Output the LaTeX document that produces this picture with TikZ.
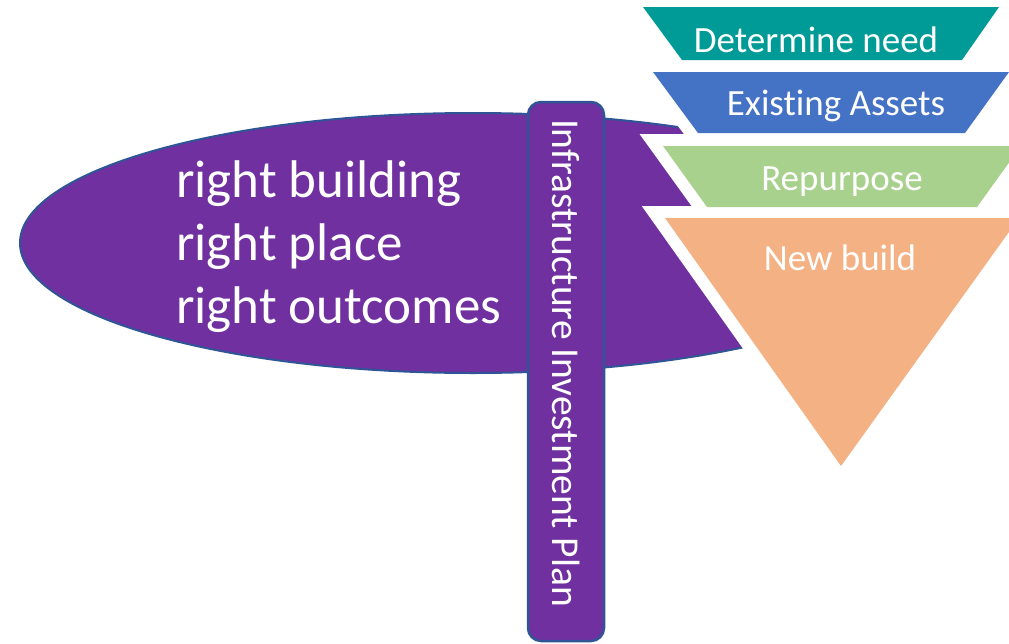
\documentclass[tikz,border=0pt]{standalone}
\usepackage{fontspec}
\setmainfont{Carlito}[Ligatures=NoCommon]
\definecolor{ipurple}{HTML}{7030A0}
\definecolor{iborder}{HTML}{2F5597}
\definecolor{iteal}{HTML}{009B96}
\definecolor{iblue}{HTML}{4472C4}
\definecolor{igreen}{HTML}{A9D18E}
\definecolor{iorange}{HTML}{F4B183}
\tikzset{
  whiteedge/.style={draw=white, line width=24pt, line join=miter, miter limit=10},
  lefttext/.style={text=white, font=\fontsize{53}{63}\selectfont, anchor=base west, inner sep=0pt},
  funneltext/.style={text=white, font=\fontsize{37}{44}\selectfont, anchor=base, inner sep=0pt},
}
\begin{document}
\begin{tikzpicture}[x=1pt,y=-1pt]
\useasboundingbox (0,0) rectangle (1009,643);
\clip (0,0) rectangle (1009,643);
% ellipse
\draw[fill=ipurple, draw=iborder, line width=2pt] (473,243) ellipse [x radius=453, y radius=130];
% white edges of funnel
\path[whiteedge] (643,7) -- (999,7) -- (962,60) -- (682,60) -- cycle;
\path[whiteedge] (653,72) -- (1009,72) -- (965,133) -- (698,133) -- cycle;
\path[whiteedge] (663,146) -- (1021,146) -- (977,207) -- (707,207) -- cycle;
\path[whiteedge] (665,218) -- (1019,218) -- (841,466) -- cycle;
% fills
\fill[iteal] (643,7) -- (999,7) -- (962,60) -- (682,60) -- cycle;
\fill[iblue] (653,72) -- (1009,72) -- (965,133) -- (698,133) -- cycle;
\fill[igreen] (663,146) -- (1021,146) -- (977,207) -- (707,207) -- cycle;
\fill[iorange] (665,218) -- (1019,218) -- (841,466) -- cycle;
% funnel labels
\node[funneltext] (t1) at (816,52) {Determine need};
\node[funneltext] (t2) at (836,115) {Existing Assets};
\node[funneltext] (t3) at (842,190) {Repurpose};
\node[funneltext] (t4) at (840,270) {New build};
% bar
\draw[fill=ipurple, draw=iborder, line width=2.5pt, rounded corners=13pt] (528,102) rectangle (604,641);
\node[text=white, font=\fontsize{39.5}{44}\selectfont, rotate=-90, inner sep=0pt] (bar) at (566,363) {Infrastructure Investment Plan};
% left text
\node[lefttext] (l1) at (176,197) {right building};
\node[lefttext] (l2) at (176,260) {right place};
\node[lefttext] (l3) at (176,323) {right outcomes};
\end{tikzpicture}
\end{document}
